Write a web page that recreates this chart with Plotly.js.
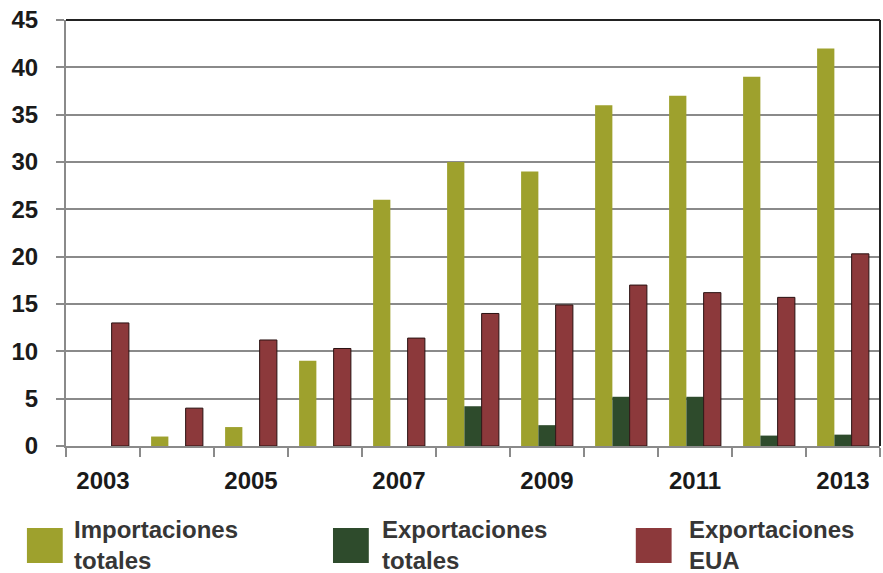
<!DOCTYPE html>
<html>
<head>
<meta charset="utf-8">
<script src="https://cdn.plot.ly/plotly-3.0.1.min.js"></script>
<style>html,body{margin:0;padding:0;background:#fff;}#chart{width:883px;height:573px;}</style>
</head>
<body>
<div id="chart"></div>
<script>
const years = [2003, 2004, 2005, 2006, 2007, 2008, 2009, 2010, 2011, 2012, 2013];
const importacionesTotales = [0, 1, 2, 9, 26, 30, 29, 36, 37, 39, 42];
const exportacionesTotales = [0, 0, 0, 0, 0, 4.2, 2.2, 5.2, 5.2, 1.1, 1.2];
const exportacionesEUA = [13, 4, 11.2, 10.3, 11.4, 14, 14.9, 17, 16.2, 15.7, 20.3];
const seriesNames = ['Importaciones totales', 'Exportaciones totales', 'Exportaciones EUA'];
const legendLabels = ['Importaciones<br>totales', 'Exportaciones<br>totales', 'Exportaciones<br>EUA'];
const seriesColors = ['#9ea12d', '#2e4b2c', '#8c393b'];
const xTickVals = [2003, 2005, 2007, 2009, 2011, 2013];
const yTickVals = [0, 5, 10, 15, 20, 25, 30, 35, 40, 45];

const traces = [
  {type: 'bar', x: years, y: importacionesTotales, name: seriesNames[0],
   marker: {color: seriesColors[0], line: {width: 0}}},
  {type: 'bar', x: years, y: exportacionesTotales, name: seriesNames[1],
   marker: {color: seriesColors[1], line: {width: 0}}},
  {type: 'bar', x: years, y: exportacionesEUA, name: seriesNames[2],
   marker: {color: seriesColors[2], line: {color: '#2a1212', width: 1}}}
];

// legend built as shapes + annotations (large square swatches like the reference)
const swatchX0 = [-0.048, 0.328, 0.700];
const textX = [0.0074, 0.3857, 0.7629];
const shapes = [
  {type: 'line', xref: 'paper', yref: 'paper', x0: 0, x1: 1, y0: 1, y1: 1, line: {color: '#222', width: 2}},
  {type: 'line', xref: 'paper', yref: 'paper', x0: 1, x1: 1, y0: 0, y1: 1, line: {color: '#222', width: 2}}
];
const annotations = [];
const legendFont = {family: 'Liberation Sans, Arial, sans-serif', size: 24, weight: 'bold', color: '#363636'};
seriesNames.forEach(function (n, i) {
  shapes.push({type: 'rect', xref: 'paper', yref: 'paper',
    x0: swatchX0[i], x1: swatchX0[i] + 0.044, y0: -0.2746, y1: -0.1925,
    fillcolor: seriesColors[i], line: {width: 0}});
  annotations.push({xref: 'paper', yref: 'paper', x: textX[i], y: -0.232,
    xanchor: 'left', yanchor: 'middle', align: 'left', showarrow: false,
    text: legendLabels[i], font: legendFont});
});

const layout = {
  width: 883, height: 573,
  margin: {l: 66, r: 3, t: 20, b: 127},
  paper_bgcolor: '#fff', plot_bgcolor: '#fff',
  barmode: 'group', bargap: 0.3, bargroupgap: 0,
  showlegend: false,
  font: {family: 'Liberation Sans, Arial, sans-serif', color: '#1a1a1a'},
  xaxis: {
    range: [2002.5, 2013.5], tickvals: xTickVals, ticktext: xTickVals.map(String),
    ticks: '', showgrid: false, zeroline: false,
    showline: true, linecolor: '#8a8a8a', linewidth: 2,
    tickfont: {size: 24, family: 'Liberation Sans, Arial', weight: 'bold', color: '#1a1a1a'},
    ticklabelstandoff: 12,
    minor: {tick0: 2002.5, dtick: 1, ticks: 'outside', ticklen: 9, tickcolor: '#8a8a8a', tickwidth: 2, showgrid: false}
  },
  yaxis: {
    range: [0, 45], tickvals: yTickVals, ticks: 'outside', ticklen: 8, tickcolor: '#8a8a8a', tickwidth: 2,
    showgrid: true, gridcolor: '#8a8a8a', gridwidth: 2, zeroline: false,
    showline: true, linecolor: '#8a8a8a', linewidth: 2,
    tickfont: {size: 24, family: 'Liberation Sans, Arial', weight: 'bold', color: '#1a1a1a'},
    ticklabelstandoff: 13
  },
  shapes: shapes,
  annotations: annotations
};

Plotly.newPlot('chart', traces, layout, {displayModeBar: false, staticPlot: true});
</script>
</body>
</html>
